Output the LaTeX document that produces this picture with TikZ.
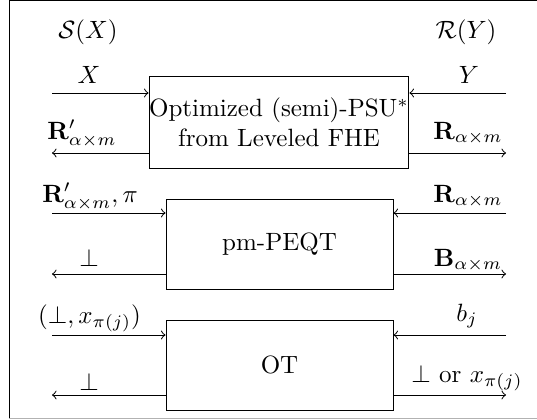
\documentclass[tikz,border=0pt]{standalone}
\usepackage{amsmath}
\begin{document}
\begin{tikzpicture}[x=0.4pt,y=-0.4pt,
  blk/.style={draw, align=center, inner sep=0pt},
  lab/.style={anchor=base, inner sep=0pt},
  arr/.style={->}]
\useasboundingbox (0,0) rectangle (537,419);
\draw (537,1) -- (9,1) -- (9,418);
\draw[gray!60] (9,418) -- (537,418);
% boxes
\node[blk, minimum width=102.4pt, minimum height=36.4pt] (psu) at (279,122.5) {Optimized (semi)-PSU$^*$\\from Leveled FHE};
\node[blk, minimum width=90.8pt, minimum height=36pt] (peqt) at (279.5,244) {pm-PEQT};
\node[blk, minimum width=90.8pt, minimum height=36pt] (ot) at (279.5,365) {OT};
% free ends
\coordinate (l1) at (52,93);  \coordinate (l2) at (52,153);
\coordinate (r1) at (506,93); \coordinate (r2) at (506,153);
\coordinate (l3) at (52,213); \coordinate (l4) at (52,274);
\coordinate (r3) at (506,213); \coordinate (r4) at (506,274);
\coordinate (l5) at (52,335); \coordinate (l6) at (52,395);
\coordinate (r5) at (506,335); \coordinate (r6) at (506,395);
% arrows
\draw[arr] (l1) -- (l1 -| psu.west);
\draw[arr] (l2 -| psu.west) -- (l2);
\draw[arr] (r1) -- (r1 -| psu.east);
\draw[arr] (r2 -| psu.east) -- (r2);
\draw[arr] (l3) -- (l3 -| peqt.west);
\draw[arr] (l4 -| peqt.west) -- (l4);
\draw[arr] (r3) -- (r3 -| peqt.east);
\draw[arr] (r4 -| peqt.east) -- (r4);
\draw[arr] (l5) -- (l5 -| ot.west);
\draw[arr] (l6 -| ot.west) -- (l6);
\draw[arr] (r5) -- (r5 -| ot.east);
\draw[arr] (r6 -| ot.east) -- (r6);
% labels
\node[lab] (sx) at (88,39) {$\mathcal{S}(X)$};
\node[lab] (ry) at (466,39) {$\mathcal{R}(Y)$};
\node[lab] (tx) at (89,84) {$X$};
\node[lab] (ty) at (469,84) {$Y$};
\node[lab] (trp) at (82,139) {$\mathbf{R}'_{\alpha\times m}$};
\node[lab] (tr1) at (468,139) {$\mathbf{R}_{\alpha\times m}$};
\node[lab] (trpi) at (90,202) {$\mathbf{R}'_{\alpha\times m},\pi$};
\node[lab] (tr2) at (468,202) {$\mathbf{R}_{\alpha\times m}$};
\node[lab] (tb1) at (89,266) {$\bot$};
\node[lab] (tb) at (468,266) {$\mathbf{B}_{\alpha\times m}$};
\node[lab] (tx2) at (89.5,323) {$(\bot,x_{\pi(j)})$};
\node[lab] (tbj) at (467,321) {$b_j$};
\node[lab] (tb2) at (89,390) {$\bot$};
\node[lab] (tor) at (467,382) {$\bot$ or $x_{\pi(j)}$};
\end{tikzpicture}
\end{document}
